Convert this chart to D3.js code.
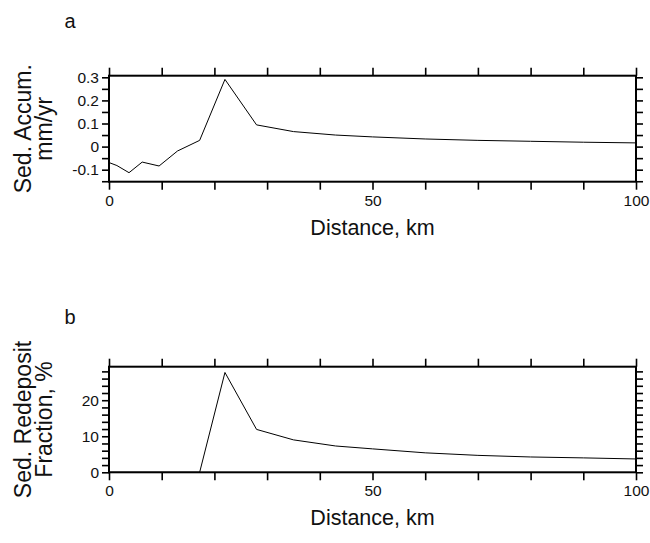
<!DOCTYPE html>
<html>
<head>
<meta charset="utf-8">
<script src="https://cdn.jsdelivr.net/npm/d3@7"></script>
<style>
  body { margin: 0; background: #fff; }
  svg { font-family: "Liberation Sans", Arial, Helvetica, sans-serif; }
  .tick text { fill: #111; }
</style>
</head>
<body>
<div id="chart"></div>
<script>
// distance along profile (km)
const distance = [0, 1.5, 3.8, 6.3, 9.5, 13.0, 17.2, 22.0, 28.0, 35.0, 43.0, 50, 60, 70, 80, 90, 100];
// sediment accumulation (mm/yr)
const accum = [-0.069, -0.082, -0.113, -0.067, -0.084, -0.019, 0.027, 0.291, 0.094, 0.065, 0.050, 0.042, 0.033, 0.027, 0.023, 0.019, 0.016];
// redeposited fraction (%)
const redeposit = [0, 0, 0, 0, 0, 0, 0, 27.7, 11.9, 9.0, 7.3, 6.5, 5.4, 4.7, 4.25, 4.0, 3.7];

const xTicks = [0, 10, 20, 30, 40, 50, 60, 70, 80, 90, 100];
const xLabels = [0, 50, 100];
const accumTicks = [-0.15, -0.1, -0.05, 0, 0.05, 0.1, 0.15, 0.2, 0.25, 0.3];
const accumLabels = [-0.1, 0, 0.1, 0.2, 0.3];
const redepTicks = [0, 2, 4, 6, 8, 10, 12, 14, 16, 18, 20, 22, 24, 26, 28];
const redepLabels = [0, 10, 20];

const W = 650, H = 543;
const left = 109, right = 636;

const svg = d3.select('#chart').append('svg')
  .attr('width', W)
  .attr('height', H);

const x = d3.scaleLinear().domain([0, 100]).range([left, right]);

function fmt(v) {
  // plain hyphen, no float noise
  return String(Math.round(v * 1000) / 1000).replace('\u2212', '-');
}

function isLabel(list, v) {
  return list.some(l => Math.abs(l - v) < 1e-9);
}

function panel(opts) {
  const y = d3.scaleLinear().domain(opts.yDomain).range([opts.bottom, opts.top]);
  const g = svg.append('g');

  // bottom axis
  g.append('g')
    .attr('transform', `translate(0,${opts.bottom})`)
    .call(d3.axisBottom(x).tickValues(xTicks).tickSize(8).tickSizeOuter(0).tickPadding(5)
      .tickFormat(d => isLabel(xLabels, d) ? fmt(d) : ''));
  // top axis
  g.append('g')
    .attr('transform', `translate(0,${opts.top})`)
    .call(d3.axisTop(x).tickValues(xTicks).tickSize(8).tickSizeOuter(0).tickFormat(''));
  // left axis
  g.append('g')
    .attr('transform', `translate(${left},0)`)
    .call(d3.axisLeft(y).tickValues(opts.ticks).tickSize(7).tickSizeOuter(0).tickPadding(3)
      .tickFormat(d => isLabel(opts.labels, d) ? fmt(d) : ''));
  // right axis
  g.append('g')
    .attr('transform', `translate(${right},0)`)
    .call(d3.axisRight(y).tickValues(opts.ticks).tickSize(7).tickSizeOuter(0).tickFormat(''));

  g.selectAll('.domain').remove();
  g.selectAll('.tick line').attr('stroke', '#000').attr('stroke-width', 1.6);
  g.selectAll('.tick text').attr('font-size', 15.5).attr('font-family', null);

  // frame
  g.append('rect')
    .attr('x', left).attr('y', opts.top)
    .attr('width', right - left).attr('height', opts.bottom - opts.top)
    .attr('fill', 'none').attr('stroke', '#000').attr('stroke-width', 2);

  // data line
  const line = d3.line().x(d => x(d[0])).y(d => y(d[1]));
  g.append('path')
    .datum(distance.map((d, i) => [d, opts.values[i]]))
    .attr('d', line)
    .attr('fill', 'none')
    .attr('stroke', '#000')
    .attr('stroke-width', 1);

  // x title
  g.append('text')
    .attr('x', (left + right) / 2)
    .attr('y', opts.bottom + 53)
    .attr('text-anchor', 'middle')
    .attr('font-size', 21.5)
    .attr('fill', '#111')
    .text('Distance, km');

  // y title, two lines
  const cy = (opts.top + opts.bottom) / 2;
  opts.yTitle.forEach((t, i) => {
    g.append('text')
      .attr('transform', `translate(${31 + i * 21},${cy}) rotate(-90)`)
      .attr('text-anchor', 'middle')
      .attr('font-size', 23)
      .attr('fill', '#111')
      .text(t);
  });

  // panel letter
  svg.append('text')
    .attr('x', 70).attr('y', opts.letterY)
    .attr('text-anchor', 'middle')
    .attr('font-size', 20)
    .attr('fill', '#111')
    .text(opts.letter);
}

panel({
  top: 75.7, bottom: 181.7,
  yDomain: [-0.152, 0.307],
  ticks: accumTicks, labels: accumLabels,
  values: accum,
  yTitle: ['Sed. Accum.', 'mm/yr'],
  letter: 'a', letterY: 28
});

panel({
  top: 366.7, bottom: 472.3,
  yDomain: [0, 29.3],
  ticks: redepTicks, labels: redepLabels,
  values: redeposit,
  yTitle: ['Sed. Redeposit', 'Fraction, %'],
  letter: 'b', letterY: 323.5
});
</script>
</body>
</html>
